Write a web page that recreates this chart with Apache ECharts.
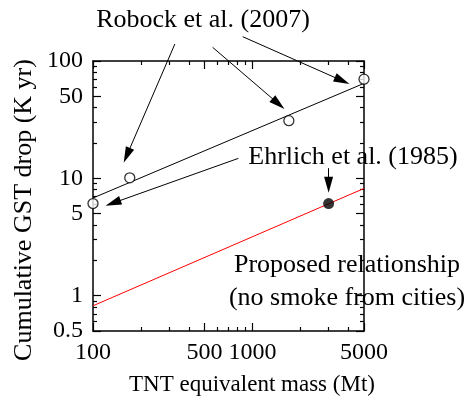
<!DOCTYPE html>
<html>
<head>
<meta charset="utf-8">
<script src="https://cdn.jsdelivr.net/npm/echarts@6/dist/echarts.min.js"></script>
<style>html,body{margin:0;padding:0;background:#fff}#c{width:465px;height:409px}</style>
</head>
<body>
<div id="c"></div>
<script>
// ---- data ----
const xMin = 100, xMax = 5000, yMin = 0.5, yMax = 100;
const xMajor = [100, 500, 1000, 5000];
const xMinor = [200, 300, 400, 600, 700, 800, 900, 2000, 3000, 4000];
const yMajor = [0.5, 1, 5, 10, 50, 100];
const yMinor = [0.6, 0.7, 0.8, 0.9, 2, 3, 4, 6, 7, 8, 9, 20, 30, 40, 60, 70, 80, 90];

const robockX = [100, 170, 1690, 5000];
const robockY = [6.1, 10.1, 31, 70];
const ehrlichX = [3000];
const ehrlichY = [6.1];
const fitX = [100, 5000];
const fitY = [6.8, 64.5];
const proposedX = [100, 5000];
const proposedY = [0.82, 8.2];

// annotation arrows (data space): start x, start y, arrowhead x, arrowhead y
const arrowX1 = [326, 562, 869, 815, 3000];
const arrowY1 = [139.6, 130.9, 161, 14.8, 12.2];
const arrowX2 = [163, 1453, 3648, 133.6, 3000];
const arrowY2 = [15.7, 43.2, 67.9, 6.16, 8.82];

const labelRobock = 'Robock et al. (2007)';
const labelEhrlich = 'Ehrlich et al. (1985)';
const labelProposed1 = 'Proposed relationship';
const labelProposed2 = '(no smoke from cities)';
const xTitle = 'TNT equivalent mass (Mt)';
const yTitle = 'Cumulative GST drop (K yr)';

// ---- chart ----
const FONT = '"Liberation Serif", "Times New Roman", serif';
const zip = (a, b) => a.map((v, i) => [v, b[i]]);

function mkAxis(kind, pos, ticks, len, showLabel, showLine) {
  const isX = kind === 'x';
  return {
    type: 'log', logBase: 10, position: pos,
    min: isX ? xMin : yMin, max: isX ? xMax : yMax,
    axisLine: { show: showLine, onZero: false, lineStyle: { color: '#000', width: 1.5 } },
    axisTick: { show: true, inside: true, length: len, customValues: ticks, lineStyle: { color: '#000', width: 1.2 } },
    minorTick: { show: false },
    splitLine: { show: false },
    axisLabel: {
      show: showLabel, customValues: isX ? xMajor : yMajor,
      margin: 10, color: '#000', fontFamily: FONT, fontSize: 24,
      formatter: v => String(v)
    }
  };
}

const chart = echarts.init(document.getElementById('c'), null, { renderer: 'canvas' });
chart.setOption({
  animation: false,
  backgroundColor: '#fff',
  grid: { left: 93, right: 101, top: 61, bottom: 78, containLabel: false },
  xAxis: [
    mkAxis('x', 'bottom', xMajor, 8, true, true),
    mkAxis('x', 'bottom', xMinor, 4, false, false),
    mkAxis('x', 'top', xMajor, 8, false, true),
    mkAxis('x', 'top', xMinor, 4, false, false)
  ],
  yAxis: [
    mkAxis('y', 'left', yMajor, 8, true, true),
    mkAxis('y', 'left', yMinor, 4, false, false),
    mkAxis('y', 'right', yMajor, 8, false, true),
    mkAxis('y', 'right', yMinor, 4, false, false)
  ],
  series: [
    { type: 'line', data: zip(fitX, fitY), symbol: 'none', lineStyle: { color: '#000', width: 1 }, z: 2 },
    { type: 'line', data: zip(proposedX, proposedY), symbol: 'none', lineStyle: { color: '#ff0000', width: 1 }, z: 2 },
    {
      type: 'lines', coordinateSystem: 'cartesian2d', clip: false,
      symbol: ['none', 'triangle'], symbolSize: [1, [9, 16]],
      lineStyle: { color: '#000', width: 1, opacity: 1, curveness: 0 },
      data: arrowX1.map((x, i) => ({ coords: [[x, arrowY1[i]], [arrowX2[i], arrowY2[i]]] })),
      z: 3
    },
    { type: 'scatter', data: zip(robockX, robockY), clip: false, symbol: 'circle', symbolSize: 10,
      itemStyle: { color: '#fff', borderColor: '#000', borderWidth: 1.3 }, z: 5 },
    { type: 'scatter', data: zip(ehrlichX, ehrlichY), clip: false, symbol: 'circle', symbolSize: 11,
      itemStyle: { color: '#000' }, z: 5 }
  ],
  graphic: [
    { type: 'text', x: 203, y: 20, z: 10, style: { text: labelRobock, font: '26px ' + FONT, fill: '#000', textAlign: 'center', textVerticalAlign: 'middle' } },
    { type: 'text', x: 353, y: 157, z: 10, style: { text: labelEhrlich, font: '26px ' + FONT, fill: '#000', textAlign: 'center', textVerticalAlign: 'middle' } },
    { type: 'text', x: 347, y: 265, z: 10, style: { text: labelProposed1, font: '26px ' + FONT, fill: '#000', textAlign: 'center', textVerticalAlign: 'middle' } },
    { type: 'text', x: 347, y: 298, z: 10, style: { text: labelProposed2, font: '26px ' + FONT, fill: '#000', textAlign: 'center', textVerticalAlign: 'middle' } },
    { type: 'text', x: 252, y: 385, z: 10, style: { text: xTitle, font: '23px ' + FONT, fill: '#000', textAlign: 'center', textVerticalAlign: 'middle' } },
    { type: 'text', x: 24, y: 210, rotation: Math.PI / 2, z: 10, style: { text: yTitle, font: '26px ' + FONT, fill: '#000', textAlign: 'center', textVerticalAlign: 'middle' } }
  ]
});
</script>
</body>
</html>
